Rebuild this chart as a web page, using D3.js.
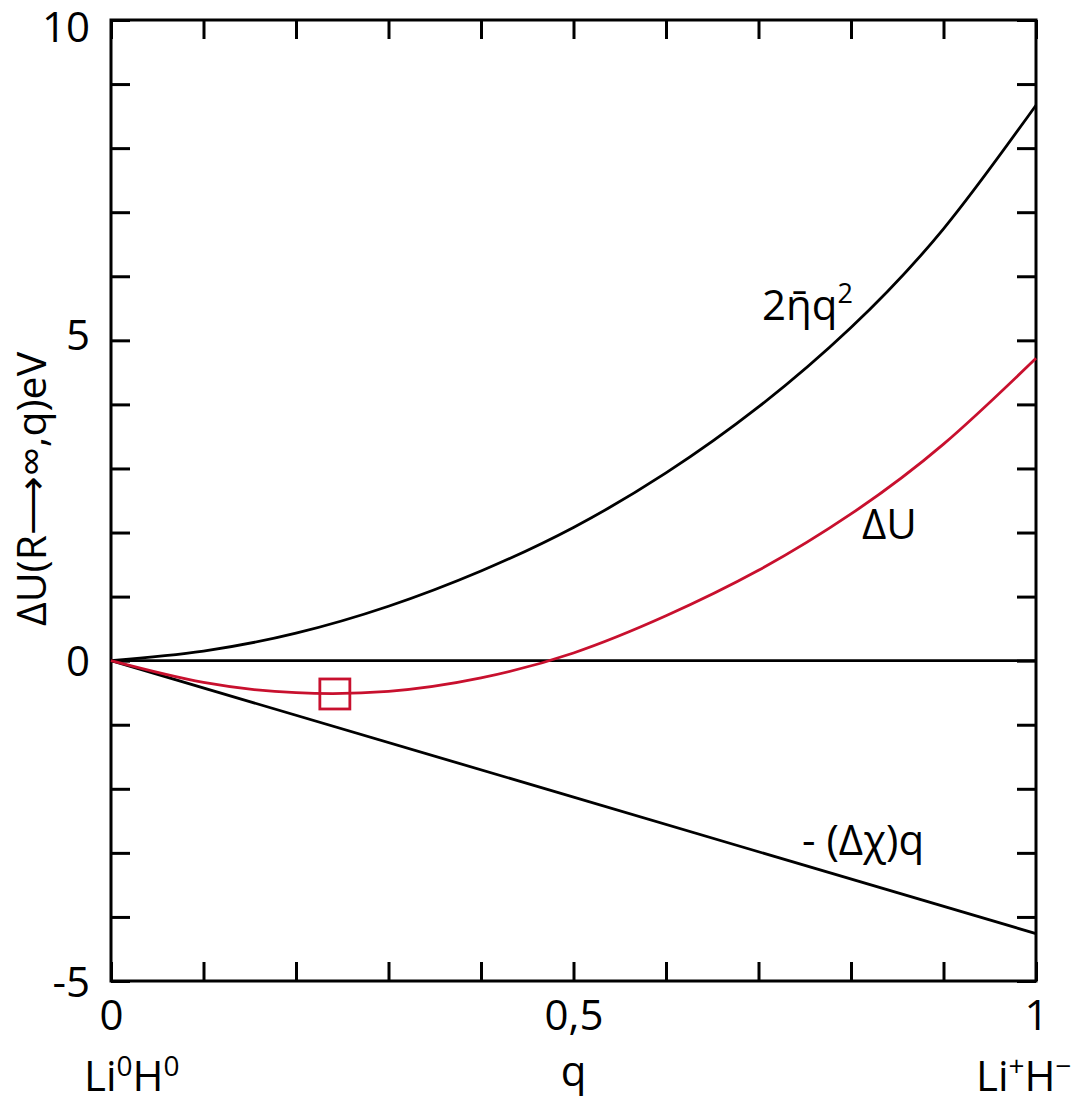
<!DOCTYPE html>
<html>
<head>
<meta charset="utf-8">
<script src="https://cdn.jsdelivr.net/npm/d3@7"></script>
<style>
  html, body { margin: 0; padding: 0; background: #fff; }
  svg text { font-family: "Open Sans", "Noto Sans", sans-serif; fill: #000; }
</style>
</head>
<body>
<div id="chart"></div>
<script>
// values
const qValues = [0, 0.1, 0.2, 0.3, 0.4, 0.5, 0.6, 0.7, 0.8, 0.9, 1.0];
const hardnessTerm = [0, 0.15, 0.43, 0.85, 1.40, 2.08, 2.93, 3.96, 5.20, 6.74, 8.67];   // 2ηq²
const deltaU = [0, -0.34, -0.50, -0.48, -0.27, 0.12, 0.70, 1.41, 2.29, 3.38, 4.72];     // ΔU
const chiQ = [0, 1.0];
const chiTerm = [0, -4.26];                                                               // -(Δχ)q
const zeroQ = [0, 1.0];
const zeroU = [0, 0];
const markerQ = [0.242];
const markerU = [-0.52];

const yTicks = d3.range(-5, 11, 1);
const yLabels = [10, 5, 0, -5];
const xTicks = d3.range(0, 11, 1).map(d => d / 10);
const xLabels = { 0: "0", 0.5: "0,5", 1: "1" };

const W = 1074, H = 1105;
const RED = "#c8102e";
const LW = 2.8;

const svg = d3.select("#chart").append("svg")
  .attr("width", W)
  .attr("height", H);

const x = d3.scaleLinear().domain([0, 1]).range([111, 1036]);
const y = d3.scaleLinear().domain([-5, 10]).range([981, 20]);

const FS = 42;

// axes (ticks point inward)
const axisL = svg.append("g")
  .attr("transform", "translate(" + x(0) + ",0)")
  .call(d3.axisLeft(y).tickValues(yTicks).tickSize(-19).tickPadding(21)
    .tickFormat(d => yLabels.includes(d) ? String(d) : ""));
const axisR = svg.append("g")
  .attr("transform", "translate(" + x(1) + ",0)")
  .call(d3.axisRight(y).tickValues(yTicks).tickSize(-19).tickFormat(""));
const axisB = svg.append("g")
  .attr("transform", "translate(0," + y(-5) + ")")
  .call(d3.axisBottom(x).tickValues(xTicks).tickSize(-19).tickPadding(19)
    .tickFormat(d => xLabels[d] !== undefined ? xLabels[d] : ""));
const axisT = svg.append("g")
  .attr("transform", "translate(0," + y(10) + ")")
  .call(d3.axisTop(x).tickValues(xTicks).tickSize(-19).tickFormat(""));

[axisL, axisR, axisB, axisT].forEach(g => {
  g.select(".domain").remove();
  g.selectAll(".tick line").attr("stroke", "#000").attr("stroke-width", 3);
  g.selectAll(".tick text").attr("font-size", FS + "px")
    .style("font-family", '"Open Sans", "Noto Sans", sans-serif');
});
axisL.selectAll(".tick text")
  .attr("dy", d => d === 10 ? "0.5em" : (d === 5 ? "0.22em" : "0.36em"));

// frame
svg.append("rect")
  .attr("x", x(0)).attr("y", y(10))
  .attr("width", x(1) - x(0)).attr("height", y(-5) - y(10))
  .attr("fill", "none").attr("stroke", "#000").attr("stroke-width", 3);

const line = d3.line()
  .x(d => x(d[0]))
  .y(d => y(d[1]))
  .curve(d3.curveNatural);

const plotG = svg.append("g");

plotG.append("path")
  .datum(d3.zip(zeroQ, zeroU))
  .attr("d", line)
  .attr("fill", "none").attr("stroke", "#000").attr("stroke-width", LW);

plotG.append("path")
  .datum(d3.zip(chiQ, chiTerm))
  .attr("d", line)
  .attr("fill", "none").attr("stroke", "#000").attr("stroke-width", LW);

plotG.append("path")
  .datum(d3.zip(qValues, hardnessTerm))
  .attr("d", line)
  .attr("fill", "none").attr("stroke", "#000").attr("stroke-width", LW);

plotG.append("path")
  .datum(d3.zip(qValues, deltaU))
  .attr("d", line)
  .attr("fill", "none").attr("stroke", RED).attr("stroke-width", LW);

// minimum marker
const SQ = 30;
plotG.selectAll("rect.marker")
  .data(d3.zip(markerQ, markerU))
  .enter().append("rect")
  .attr("class", "marker")
  .attr("x", d => x(d[0]) - SQ / 2)
  .attr("y", d => y(d[1]) - SQ / 2)
  .attr("width", SQ).attr("height", SQ)
  .attr("fill", "none").attr("stroke", RED).attr("stroke-width", LW);

// curve labels
const lab1 = svg.append("text").attr("x", 762).attr("y", 320).attr("font-size", FS + "px");
lab1.append("tspan").text("2\u03B7\u0304q");
lab1.append("tspan").text("2").attr("font-size", "27px").attr("dy", -17);

svg.append("text").attr("x", 862).attr("y", 539).attr("font-size", FS + "px").text("\u0394U");

svg.append("text").attr("x", 802).attr("y", 855).attr("font-size", FS + "px").text("- (\u0394\u03C7)q");

// axis titles
const t1 = svg.append("text").attr("x", 84).attr("y", 1091).attr("font-size", FS + "px");
t1.append("tspan").text("Li");
t1.append("tspan").text("0").attr("font-size", "28px").attr("dy", -15);
t1.append("tspan").text("H").attr("dy", 15);
t1.append("tspan").text("0").attr("font-size", "28px").attr("dy", -15);

svg.append("text").attr("x", x(0.5)).attr("y", 1086).attr("text-anchor", "middle")
  .attr("font-size", FS + "px").text("q");

const t2 = svg.append("text").attr("x", 976).attr("y", 1091).attr("font-size", FS + "px");
t2.append("tspan").text("Li");
t2.append("tspan").text("+").attr("font-size", "28px").attr("dy", -15);
t2.append("tspan").text("H").attr("dy", 15);
t2.append("tspan").text("\u2212").attr("font-size", "28px").attr("dy", -15);

svg.append("text")
  .attr("transform", "translate(46,489) rotate(-90)")
  .attr("text-anchor", "middle")
  .attr("font-size", "41px")
  .text("\u0394U(R\u27F6\u221E,q)eV");
</script>
</body>
</html>
